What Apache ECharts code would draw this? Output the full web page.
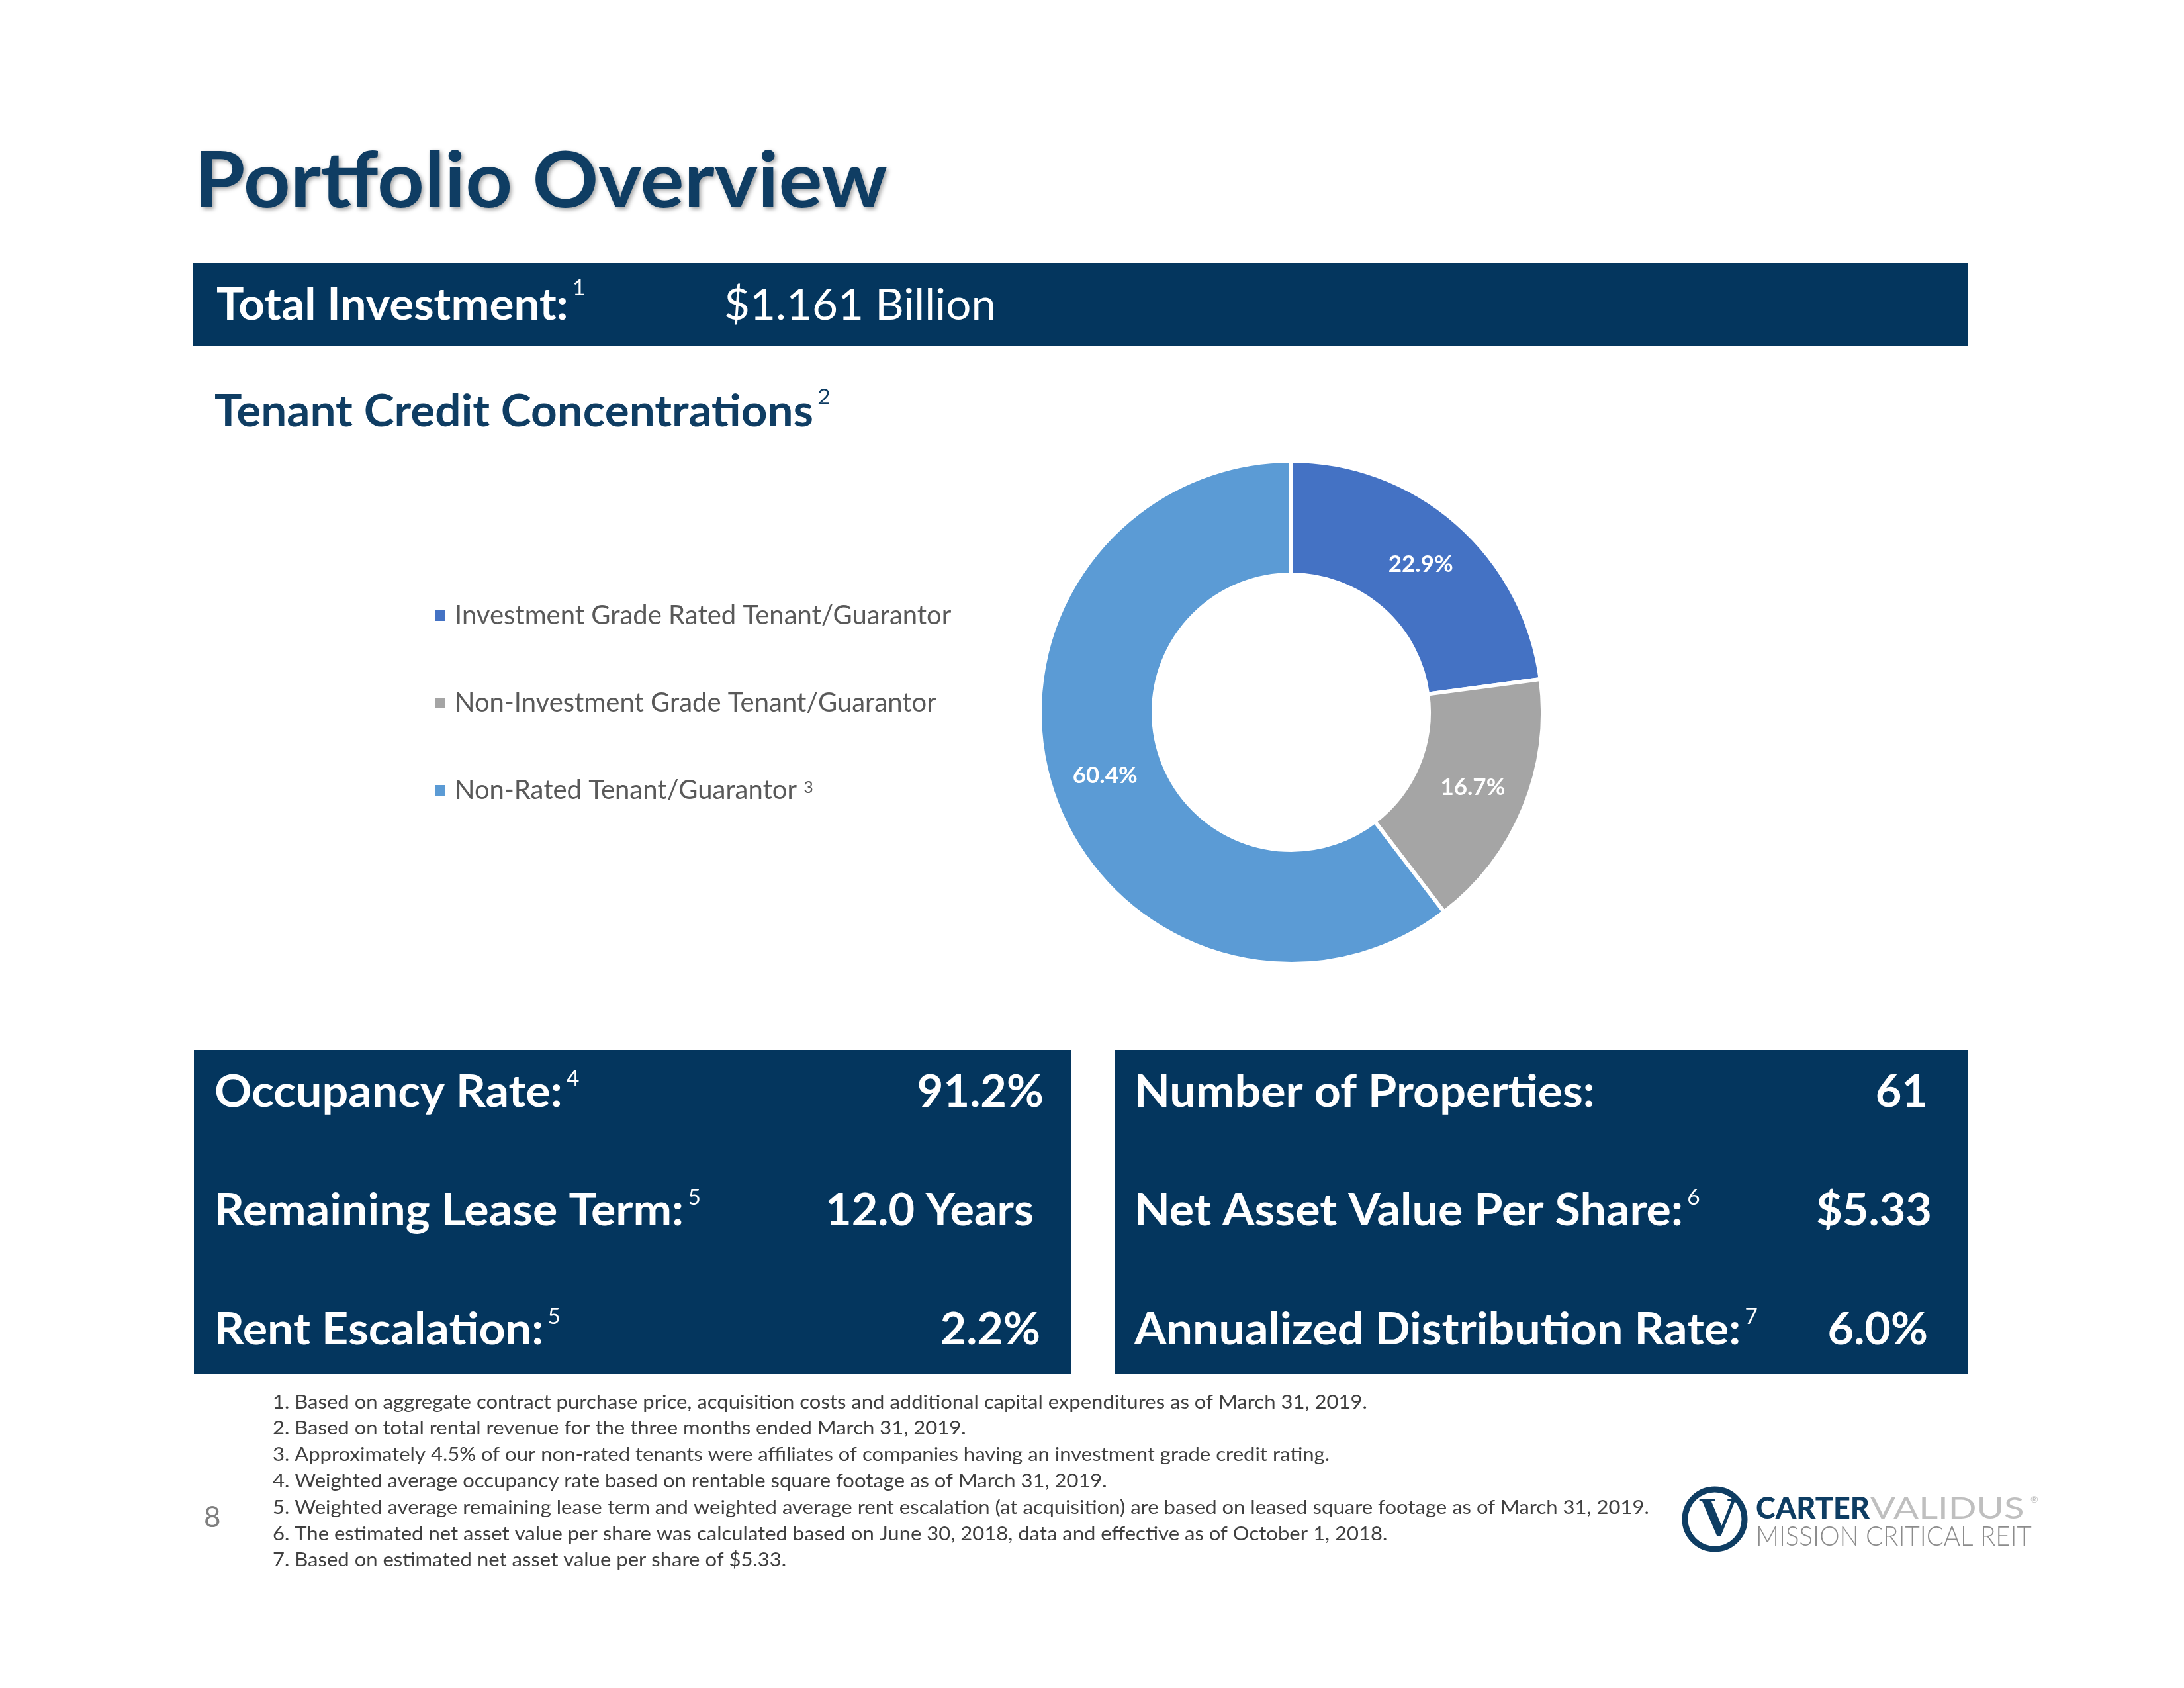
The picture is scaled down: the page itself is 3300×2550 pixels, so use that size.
<!DOCTYPE html>
<html><head><meta charset="utf-8">
<script src="https://cdn.jsdelivr.net/npm/echarts/dist/echarts.min.js"></script>
<style>html,body{margin:0;padding:0;background:#fff}#c{width:3300px;height:2550px}</style>
</head><body><div id="c"></div>
<script>
// ---- data ----
const categories = ['Investment Grade Rated Tenant/Guarantor', 'Non-Investment Grade Tenant/Guarantor', 'Non-Rated Tenant/Guarantor'];
const shares = [22.9, 16.7, 60.4];
const categoryNotes = ['', '', '3'];
const leftLabels = ['Occupancy Rate:', 'Remaining Lease Term:', 'Rent Escalation:'];
const leftNotes = ['4', '5', '5'];
const leftValues = ['91.2%', '12.0 Years', '2.2%'];
const rightLabels = ['Number of Properties:', 'Net Asset Value Per Share:', 'Annualized Distribution Rate:'];
const rightNotes = ['', '6', '7'];
const rightValues = ['61', '$5.33', '6.0%'];
const footnotes = [
  '1. Based on aggregate contract purchase price, acquisition costs and additional capital expenditures as of March 31, 2019.',
  '2. Based on total rental revenue for the three months ended March 31, 2019.',
  '3. Approximately 4.5% of our non-rated tenants were affiliates of companies having an investment grade credit rating.',
  '4. Weighted average occupancy rate based on rentable square footage as of March 31, 2019.',
  '5. Weighted average remaining lease term and weighted average rent escalation (at acquisition) are based on leased square footage as of March 31, 2019.',
  '6. The estimated net asset value per share was calculated based on June 30, 2018, data and effective as of October 1, 2018.',
  '7. Based on estimated net asset value per share of $5.33.'
];

// ---- styles / layout ----
const NAVY = '#04365E';
const TITLE = '#0F3D63';
const sliceColors = ['#4472C4', '#A5A5A5', '#5B9BD5'];
const rowY = [1650, 1829.5, 2009.5];
const leftValX = [1577, 1562, 1572];
const rightValX = [2913, 2919, 2913];

function txt(x, y, text, font, fill, align, extra, sx) {
  align = align || 'left';
  return {type: 'text', x: x, y: y, scaleX: sx || 1, silent: true, z: 10,
    style: Object.assign({text: text, font: font, fill: fill, textAlign: align, textVerticalAlign: 'middle'}, extra || {})};
}
function supText(x, y, main, note, mainFont, fill, lh, sx) {
  return {type: 'text', x: x, y: y, scaleX: sx || 1, silent: true, z: 10,
    style: {text: '{m|' + main + '}' + (note ? '{s|' + note + '}' : ''), textAlign: 'left', textVerticalAlign: 'middle',
      rich: {m: {font: mainFont, fill: fill, lineHeight: lh},
             s: {font: '32px Lato', fill: fill, lineHeight: 36, verticalAlign: 'top', padding: [0, 0, 0, 6]}}}};
}

const graphics = [];
graphics.push(txt(294, 275, 'Portfolio Overview', 'bold 117px Lato', TITLE, 'left',
  {textShadowColor: 'rgba(0,0,0,0.35)', textShadowBlur: 6, textShadowOffsetX: 3, textShadowOffsetY: 3}, 1.057));
graphics.push({type: 'rect', shape: {x: 292, y: 398, width: 2682, height: 125}, style: {fill: NAVY}});
graphics.push(supText(327, 461.5, 'Total Investment:', '1', 'bold 66px Lato', '#ffffff', 84, 1.05));
graphics.push(txt(1094, 461.5, '$1.161 Billion', '66px Lato', '#ffffff', 'left', null, 1.02));
graphics.push(supText(324, 623, 'Tenant Credit Concentrations', '2', 'bold 66px Lato', TITLE, 76, 1.05));

graphics.push({type: 'rect', shape: {x: 293, y: 1586, width: 1325, height: 489}, style: {fill: NAVY}});
graphics.push({type: 'rect', shape: {x: 1684, y: 1586, width: 1290, height: 489}, style: {fill: NAVY}});
for (let i = 0; i < 3; i++) {
  graphics.push(supText(324, rowY[i], leftLabels[i], leftNotes[i], 'bold 67px Lato', '#ffffff', 72, 1.045));
  graphics.push(txt(leftValX[i], rowY[i], leftValues[i], 'bold 67px Lato', '#ffffff', 'right', null, 1.02));
  graphics.push(supText(1714, rowY[i], rightLabels[i], rightNotes[i], 'bold 67px Lato', '#ffffff', 72, 1.045));
  graphics.push(txt(rightValX[i], rowY[i], rightValues[i], 'bold 67px Lato', '#ffffff', 'right', null, 1.02));
}
footnotes.forEach(function (f, i) {
  graphics.push(txt(412, 2118.3 + i * 39.8, f, '29px Lato', '#404040', 'left', null, 1.07));
});
graphics.push(txt(308, 2293, '8', '44px Lato', '#7F7F7F'));
// logo
graphics.push({type: 'circle', shape: {cx: 2591, cy: 2295, r: 45}, style: {fill: 'none', stroke: '#0E3D63', lineWidth: 9}});
graphics.push(txt(2597, 2298, 'V', 'bold 84px "Liberation Serif"', '#0E3D63', 'center'));
graphics.push(txt(2653, 2279, 'CARTER', '900 45px Lato', '#0E3D63'));
graphics.push(txt(2826, 2279, 'VALIDUS', '45px Lato', '#BFBFBF', 'left', null, 1.25));
graphics.push(txt(3068, 2265, '\u00AE', '14px Lato', '#BFBFBF'));
graphics.push(txt(2653, 2321, 'MISSION CRITICAL REIT', '300 42px Lato', '#8C8C8C', 'left', null, 0.916));

const chart = echarts.init(document.getElementById('c'), null, {renderer: 'canvas', width: 3300, height: 2550});
chart.setOption({
  animation: false,
  backgroundColor: '#ffffff',
  legend: {
    orient: 'vertical', left: 650, top: 905, itemWidth: 18, itemHeight: 18, itemGap: 92,
    icon: 'rect', selectedMode: false,
    data: categories,
    formatter: function (name) {
      const idx = categories.indexOf(name);
      return '{n|' + name + (categoryNotes[idx] ? ' ' : '') + '}' + (categoryNotes[idx] ? '{s|' + categoryNotes[idx] + '}' : '');
    },
    textStyle: {
      fontFamily: 'Lato', fontSize: 40, color: '#595959', lineHeight: 34,
      rich: {
        n: {fontFamily: 'Lato', fontSize: 40, color: '#595959', lineHeight: 34, padding: [0, 0, 0, 8]},
        s: {fontFamily: 'Lato', fontSize: 25, color: '#595959', lineHeight: 14, verticalAlign: 'top'}
      }
    }
  },
  graphic: {elements: graphics},
  series: [{
    type: 'pie',
    center: [1951, 1076],
    radius: [208, 380],
    startAngle: 90,
    clockwise: true,
    avoidLabelOverlap: false,
    silent: true,
    itemStyle: {borderColor: '#ffffff', borderWidth: 6},
    label: {show: true, position: 'inside', color: '#ffffff', fontFamily: 'Lato', fontWeight: 'bold', fontSize: 35,
      formatter: function (p) { return p.value.toFixed(1) + '%'; }},
    labelLine: {show: false},
    emphasis: {disabled: true},
    data: categories.map(function (c, i) { return {name: c, value: shares[i], itemStyle: {color: sliceColors[i]}}; })
  }]
});
</script></body></html>
